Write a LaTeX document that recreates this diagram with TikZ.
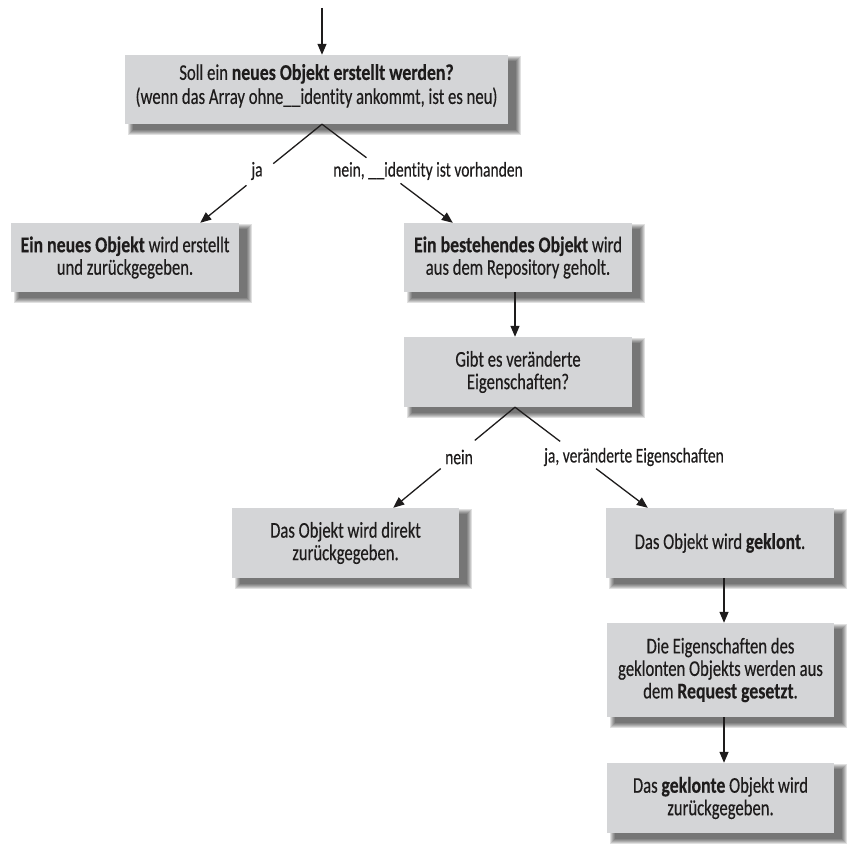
\documentclass[tikz,border=0pt]{standalone}
\usepackage{fontspec}
\setmainfont{Carlito}[FakeStretch=0.74, FakeBold=0.35, Ligatures=NoCommon, BoldFeatures={FakeStretch=0.79}]
\usetikzlibrary{arrows.meta,calc,backgrounds}
\definecolor{boxgray}{RGB}{212,213,215}
\definecolor{inkc}{RGB}{30,28,28}
\begin{document}
\begin{tikzpicture}[x=1pt,y=-1pt,
  box/.style={fill=boxgray, align=center, inner sep=0pt, text=inkc,
    font=\fontsize{22.5}{22.5}\selectfont, minimum width=228pt, minimum height=69pt},
  arr/.style={line width=1.3pt, draw=inkc, -{Triangle[length=11pt,width=9pt]}},
  ln/.style={line width=1.3pt, draw=inkc},
  lbl/.style={inner sep=0pt, text=inkc, font=\fontsize{21}{21}\selectfont}
]
\useasboundingbox (0,0) rectangle (853,848);

\node[box, minimum width=383pt, font=\fontsize{22.5}{24}\selectfont] (A) at (316.5,89.5)
  {Soll ein \textbf{neues Objekt erstellt werden?}\\(wenn das Array ohne\_\kern0.5pt\_identity ankommt, ist es neu)\\[-13pt]\mbox{}};
\node[box] (B) at (125,257.5) {\textbf{Ein neues Objekt} wird erstellt\\und zurückgegeben.};
\node[box] (C) at (518,257.5) {\textbf{Ein bestehendes Objekt} wird\\aus dem Repository geholt.};
\node[box, minimum height=70pt] (D) at (518,372) {Gibt es veränderte\\Eigenschaften?};
\node[box, minimum width=227pt, minimum height=70pt] (E) at (345.5,543) {Das Objekt wird direkt\\zurückgegeben.};
\node[box, minimum height=70pt] (F) at (720,543) {Das Objekt wird \textbf{geklont}.};
\node[box, minimum width=227pt, minimum height=94pt] (G) at (720.5,670)
  {Die Eigenschaften des\\geklonten Objekts werden aus\\dem \textbf{Request gesetzt}.};
\node[box, minimum width=227pt, minimum height=70pt] (H) at (720.5,798) {Das \textbf{geklonte} Objekt wird\\zurückgegeben.};

\begin{scope}[on background layer]
\foreach \n in {A,B,C,D,E,F,G,H}{
  \foreach \i in {0,...,5}{
    \fill[black, fill opacity=0.12] ($(\n.north west)+(8-\i,6-\i)$) rectangle ($(\n.south east)+(8+\i,6+\i)$);
  }
}
\end{scope}

% connectors
\coordinate (start) at (322,8);
\draw[arr] (start) -- ([xshift=5.5pt]A.south |- A.north);

\coordinate (pA) at ([xshift=5.5pt]A.south);
\coordinate (tB) at ([xshift=-39pt]B.north east);
\coordinate (tC) at ([xshift=49pt]C.north west);
\draw[ln] (pA) -- ($(pA)!0.40!(tB)$);
\draw[arr] ($(pA)!0.62!(tB)$) -- (tB);
\draw[ln] (pA) -- ($(pA)!0.34!(tC)$);
\draw[arr] ($(pA)!0.60!(tC)$) -- (tC);

\draw[arr] ([xshift=-3pt]C.south) -- ([xshift=-3pt]D.north);

\coordinate (pD) at ([xshift=-3pt]D.south);
\coordinate (tE) at ([xshift=-66pt]E.north east);
\coordinate (tF) at ([xshift=42pt]F.north west);
\draw[ln] (pD) -- ($(pD)!0.33!(tE)$);
\draw[arr] ($(pD)!0.61!(tE)$) -- (tE);
\draw[ln] (pD) -- ($(pD)!0.34!(tF)$);
\draw[arr] ($(pD)!0.61!(tF)$) -- (tF);

\draw[arr] ([xshift=4pt]F.south) -- ([xshift=3.5pt]G.north);
\draw[arr] ([xshift=3.5pt]G.south) -- ([xshift=3.5pt]H.north);

% labels
\node[lbl] (l1) at (257,171) {ja};
\node[lbl] (l2) at (428,171) {nein, \_\kern0.5pt\_identity ist vorhanden};
\node[lbl] (l3) at (459,457) {nein};
\node[lbl] (l4) at (634,457) {ja, veränderte Eigenschaften};
\end{tikzpicture}
\end{document}
